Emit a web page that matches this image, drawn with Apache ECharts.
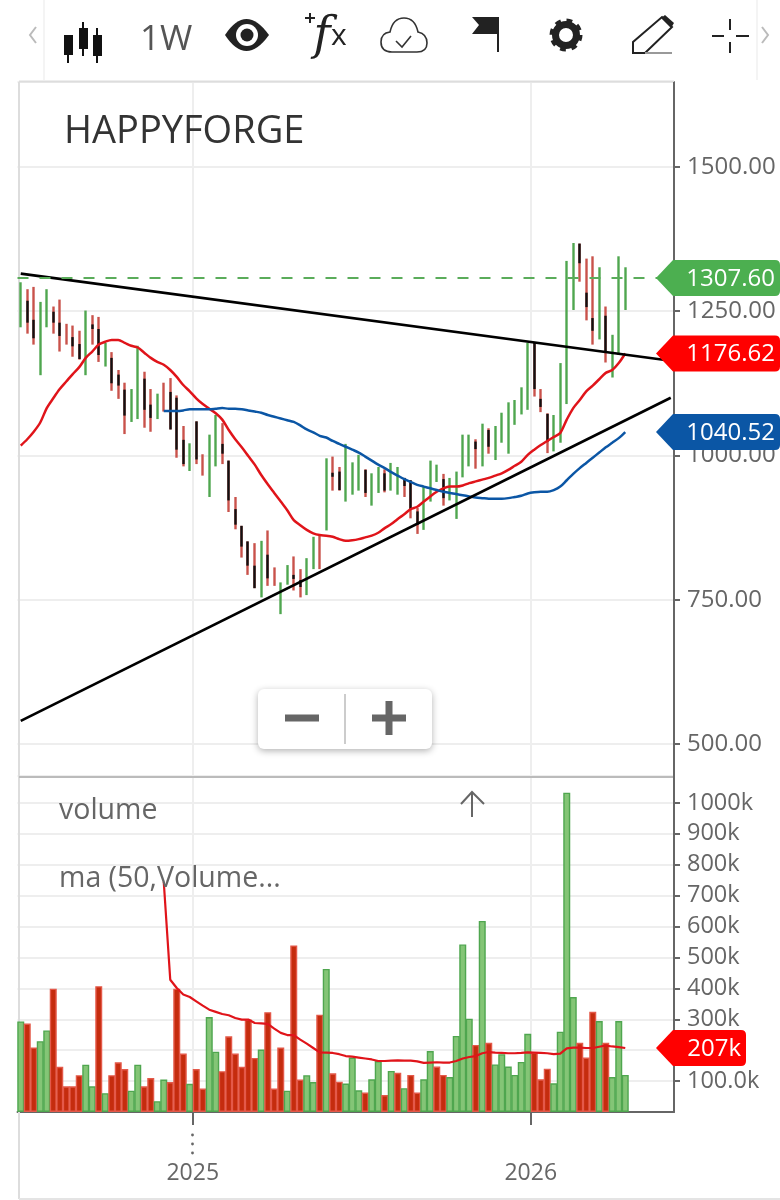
<!DOCTYPE html>
<html>
<head>
<meta charset="utf-8">
<title>HAPPYFORGE 1W</title>
<script src="https://cdn.jsdelivr.net/npm/echarts@6/dist/echarts.min.js"></script>
<style>
html, body { margin: 0; padding: 0; background: #fff; }
#chart { width: 780px; height: 1200px; }
</style>
</head>
<body>
<div id="chart"></div>
<script>
// weekly bars
var opens = [1235,1268,1235,1160,1232,1249,1230,1200,1205,1193,
    1160,1227,1219,1160,1169,1140,1114,1065,1075,1133,
    1088,1070,1082,1110,1100,1027,980,1059,972,940,
    990,1020,991,907,878,851,809,765,828,780,
    735,782,793,784,770,812,812,885,970,972,
    930,940,945,975,920,940,969,945,938,961,
    957,903,880,930,960,959,930,900,970,990,
    1024,990,1044,1000,1030,1012,1060,1078,1090,1195,
    1098,1072,1015,1035,1100,1265,1367,1282,1238,1212,
    1242,1145,1185,1262];
var closes = [1285,1230,1203,1250,1275,1230,1207,1220,1189,1167,
    1240,1219,1174,1185,1125,1121,1069,1105,1170,1079,
    1065,1100,1115,1045,1010,985,1012,993,995,1025,
    1060,1003,922,880,842,809,770,840,787,800,
    772,804,786,772,812,850,852,985,963,940,
    1005,980,990,935,960,972,939,980,972,947,
    906,880,935,980,978,926,955,962,1025,1028,
    1011,1045,1015,1042,1065,1082,1088,1110,1180,1115,
    1084,1024,1060,1150,1325,1355,1333,1257,1216,1315,
    1180,1198,1335,1307.6];
var highs = [1300,1288,1292,1266,1288,1258,1270,1228,1225,1216,
    1251,1243,1240,1195,1179,1148,1126,1115,1190,1145,
    1115,1107,1126,1134,1104,1051,1021,1059,1002,1036,
    1070,1056,991,928,878,851,848,852,870,806,
    780,810,825,803,822,859,861,995,998,980,
    1020,988,1001,976,969,980,976,987,980,961,
    957,909,946,991,984,968,961,972,1036,1036,
    1028,1055,1047,1051,1074,1092,1096,1118,1195,1195,
    1115,1073,1070,1160,1337,1368,1367,1341,1345,1326,
    1258,1209,1345,1326];
var lows = [1222,1211,1192,1139,1222,1211,1180,1192,1171,1166,
    1139,1192,1162,1154,1112,1098,1037,1058,1063,1048,
    1041,1063,1076,1045,996,981,973,985,965,928,
    981,985,902,872,823,793,770,754,774,774,
    725,776,766,754,758,803,803,870,939,939,
    920,932,939,928,913,935,936,939,932,928,
    891,864,871,920,954,913,922,890,962,981,
    977,981,1003,992,1022,1003,1053,1071,1079,1102,
    1075,1004,1007,1022,1089,1252,1301,1234,1192,1201,
    1161,1135,1174,1252];
// up on the week but closed under the previous close: drawn red without a black body
var hollowRed = [7,22,28,39,46];

var ma20 = [1017,1028,1041,1057,1082,1099,1115,1128,1141,1153,
    1169,1180,1192,1197,1200,1200,1195,1190,1187,1178,
    1169,1162,1157,1148,1136,1122,1111,1099,1089,1081,
    1073,1062,1044,1028,1014,999,984,966,950,935,
    920,905,888,879,871,865,862,861,859,855,
    852,853,855,858,861,866,874,881,890,898,
    907,911,920,929,937,943,946,946,948,952,
    955,958,961,965,969,975,982,989,1001,1010,
    1018,1025,1032,1039,1062,1082,1096,1111,1121,1132,
    1143,1148,1160,1176.62];
var ma50 = ['-','-','-','-','-','-','-','-','-','-',
    '-','-','-','-','-','-','-','-','-','-',
    '-','-',1077,1077,1077,1078,1080,1080,1080,1080,
    1081,1082,1081,1081,1080,1078,1076,1074,1070,1067,
    1064,1061,1058,1052,1045,1040,1034,1031,1025,1020,
    1015,1010,1005,998,991,984,978,971,965,959,
    954,949,946,943,940,937,935,933,931,929,
    927,926,925,925,925,926,928,930,934,936,
    937,937,940,946,957,968,978,987,996,1005,
    1014,1022,1030,1040.52];

// volume in thousands
var volumes = [293,286,209,229,264,399,146,83,83,119,
    153,83,407,61,119,161,139,69,153,83,
    110,35,105,97,399,189,91,139,76,307,
    195,132,245,189,146,299,175,202,323,76,
    209,69,539,105,119,97,315,463,125,98,
    92,176,70,63,106,165,55,133,127,77,
    120,63,106,197,147,120,113,246,542,302,
    217,618,224,154,187,147,120,162,253,192,
    106,140,93,260,1033,372,224,176,324,294,
    224,113,294,120];
var volumeUp = [1,0,0,1,1,0,0,0,0,0,
    1,1,0,1,0,0,0,1,1,0,
    0,1,1,0,0,0,1,0,0,1,
    1,0,0,0,0,0,0,1,0,0,
    0,1,0,0,1,1,0,1,0,0,
    1,1,1,0,1,1,0,1,0,1,
    0,0,1,1,0,0,1,1,1,1,
    0,1,0,1,1,1,1,1,1,0,
    0,0,1,1,1,1,0,0,0,1,
    0,1,1,1];
var volumeMa = ['-','-','-','-','-','-','-','-','-','-',
    '-','-','-','-','-','-','-','-','-','-',
    '-','-',745,428,401,380,372,358,344,331,
    324,317,313,304,299,299,288,287,285,270,
    256,249,249,234,221,207,193,192,191,187,
    181,179,176,173,170,165,165,166,167,166,
    166,164,159,160,161,160,160,165,173,178,
    181,190,194,192,191,190,190,191,193,192,
    191,190,187,189,206,208,208,207,207,211,
    215,212,210,207];

// hand drawn trend lines: [bar index, price]
var upperTrend = [[0,1315],[100,1164]];
var lowerTrend = [[0,540],[100,1100]];

var lastClose = 1307.60;
var lastMa20 = 1176.62;
var lastMa50 = 1040.52;
var lastVolumeMa = 207;

var barCount = 101;
var yearTicks = {27: '2025', 79: '2026'};

var GREEN = '#4fa64f';
var WICK_RED = '#c9524b';
var TAG_GREEN = '#4caf50';
var TAG_RED = '#ff0000';
var TAG_BLUE = '#0b56a5';
var FONT = '"Open Sans", sans-serif';

var categories = [];
for (var i = 0; i < barCount; i++) {
    categories.push(yearTicks[i] || '');
}

var candleData = [];
var bodyData = [];
var volumeData = [];
for (var n = 0; n < opens.length; n++) {
    var rising = closes[n] >= opens[n] && hollowRed.indexOf(n) < 0;
    var tone = rising ? GREEN : WICK_RED;
    candleData.push({
        value: [opens[n], closes[n], lows[n], highs[n]],
        itemStyle: {color: tone, color0: tone, borderColor: tone, borderColor0: tone}
    });
    bodyData.push(closes[n] < opens[n] ? [opens[n], closes[n], closes[n], opens[n]] : '-');
    volumeData.push({
        value: volumes[n],
        itemStyle: volumeUp[n]
            ? {color: '#84c576', borderColor: '#4fa64f'}
            : {color: '#c52c0e', borderColor: '#e4594a'}
    });
}

var isYearTick = function (index) {
    return !!yearTicks[index];
};

var xAxisOf = function (gridIndex, withLabel) {
    return {
        type: 'category',
        gridIndex: gridIndex,
        data: categories,
        boundaryGap: true,
        axisLine: {show: withLabel, onZero: false, lineStyle: {color: '#666', width: 2}},
        axisTick: {show: false},
        splitLine: {show: true, interval: isYearTick, lineStyle: {color: '#eee', width: 2}},
        axisLabel: {
            show: withLabel,
            interval: isYearTick,
            margin: 50,
            padding: [0, 7, 0, 0],
            color: '#666',
            fontFamily: FONT,
            fontSize: 23
        }
    };
};

var yAxisOf = function (gridIndex, min, max, interval, size, topPad, formatter) {
    return {
        type: 'value',
        gridIndex: gridIndex,
        position: 'right',
        min: min,
        max: max,
        interval: interval,
        axisLine: {show: true, lineStyle: {color: '#666', width: 2}},
        axisTick: {show: true, length: 6, lineStyle: {color: '#666', width: 2}},
        splitLine: {show: true, lineStyle: {color: '#eee', width: 2}},
        axisLabel: {
            show: true,
            margin: 13,
            padding: [topPad, 0, 0, 0],
            showMaxLabel: false,
            showMinLabel: gridIndex === 0,
            color: '#666',
            fontFamily: FONT,
            fontSize: size,
            formatter: formatter
        }
    };
};

var option = {
    animation: false,
    backgroundColor: '#fff',
    grid: [
        {left: 17.5, top: 82, width: 656.5, height: 662},
        {left: 17.5, top: 776, width: 656.5, height: 336}
    ],
    xAxis: [xAxisOf(0, false), xAxisOf(1, true)],
    yAxis: [
        yAxisOf(0, 500, 1647, 250, 24, 5, function (v) {
            return v > 1500 ? '' : v.toFixed(2);
        }),
        yAxisOf(1, 0, 1087, 100, 23.5, 3, function (v) {
            if (v === 0 || v > 1000) {
                return '';
            }
            return v === 100 ? '100.0k' : v + 'k';
        })
    ],
    series: [
        {
            name: 'price',
            type: 'candlestick',
            data: candleData,
            barWidth: 0.5,
            itemStyle: {borderWidth: 2.4},
            markLine: {
                silent: true,
                symbol: 'none',
                label: {show: false},
                lineStyle: {color: '#5aac5a', type: [11, 11], width: 2},
                data: [{yAxis: lastClose}]
            }
        },
        {
            name: 'body',
            type: 'candlestick',
            data: bodyData,
            barWidth: 0.5,
            itemStyle: {color: '#111', color0: '#111', borderColor: '#111', borderColor0: '#111', borderWidth: 2.4}
        },
        {
            name: 'ma 20',
            type: 'line',
            data: ma20,
            showSymbol: false,
            smooth: 0.3,
            lineStyle: {color: '#e0141a', width: 2.5}
        },
        {
            name: 'ma 50',
            type: 'line',
            data: ma50,
            showSymbol: false,
            smooth: 0.3,
            lineStyle: {color: TAG_BLUE, width: 2.5}
        },
        {
            name: 'upper trend',
            type: 'line',
            data: upperTrend,
            showSymbol: false,
            lineStyle: {color: '#000', width: 2.7}
        },
        {
            name: 'lower trend',
            type: 'line',
            data: lowerTrend,
            showSymbol: false,
            lineStyle: {color: '#000', width: 2.7}
        },
        {
            name: 'volume',
            type: 'bar',
            xAxisIndex: 1,
            yAxisIndex: 1,
            data: volumeData,
            barWidth: 7,
            itemStyle: {borderWidth: 1.4}
        },
        {
            name: 'ma (50,Volume...',
            type: 'line',
            xAxisIndex: 1,
            yAxisIndex: 1,
            data: volumeMa,
            showSymbol: false,
            z: 5,
            lineStyle: {color: '#e0141a', width: 2.2}
        }
    ]
};

var chart = echarts.init(document.getElementById('chart'), null, {renderer: 'canvas'});
chart.setOption(option);

/** line segment helper for frames and icons */
var seg = function (x1, y1, x2, y2, color, width) {
    return {
        type: 'line',
        silent: true,
        z: 1,
        shape: {x1: x1, y1: y1, x2: x2, y2: y2},
        style: {stroke: color, lineWidth: width}
    };
};

// the graphic component has no plain path type, every icon gets a registered shape
var iconCount = 0;
var icon = function (pathData, fill, stroke, width) {
    var shapeName = 'toolbarIcon' + (iconCount++);
    echarts.graphic.registerShape(shapeName, echarts.graphic.extendPath(pathData, {}));
    return {
        type: shapeName,
        silent: true,
        z: 20,
        style: {fill: fill || 'none', stroke: stroke || 'none', lineWidth: width || 0}
    };
};

var label = function (text, x, y, size, color, align, extra) {
    return {
        type: 'text',
        silent: true,
        z: 30,
        x: x,
        y: y,
        style: {
            text: text,
            fill: color,
            font: (extra || '') + ' ' + size + 'px ' + FONT,
            textAlign: align || 'left',
            textVerticalAlign: 'middle'
        }
    };
};

/** value tag on the right edge, centred on the value through the axis scale */
var valueTag = function (axisIndex, value, text, color, right) {
    var cy = chart.convertToPixel({yAxisIndex: axisIndex}, value);
    var top = cy - 18;
    var bot = cy + 18;
    return [
        icon('M656 ' + cy + 'L673 ' + top + 'L' + (right - 5) + ' ' + top + 'Q' + right + ' ' + top + ' ' + right + ' ' + (top + 5) +
            'L' + right + ' ' + (bot - 5) + 'Q' + right + ' ' + bot + ' ' + (right - 5) + ' ' + bot + 'L673 ' + bot + 'Z', color),
        label(text, right === 780 ? 775 : right - 5, cy + 1, 24, '#fff', 'right')
    ];
};

var yearTickX = function (index) {
    return chart.convertToPixel({xAxisIndex: 1}, index) - 3.25;
};

var graphics = [
    // frame
    seg(19, 82, 19, 1199, '#ddd', 2),
    seg(19, 81.5, 674, 81.5, '#ddd', 2),
    seg(19, 777, 674, 777, '#bbb', 2),
    seg(19, 1199, 780, 1199, '#e4e4e4', 2),
    seg(674, 82, 674, 1112, '#666', 2),
    seg(yearTickX(27), 744, yearTickX(27), 776, '#eee', 2),
    seg(yearTickX(79), 744, yearTickX(79), 776, '#eee', 2),
    seg(yearTickX(27), 1112, yearTickX(27), 1125, '#666', 2),
    seg(yearTickX(79), 1112, yearTickX(79), 1125, '#666', 2),
    seg(44, 0, 44, 80, '#f4f4f4', 2),
    seg(757, 0, 757, 80, '#f4f4f4', 2),

    // toolbar
    icon('M36 27L30 35L36 43', null, '#bbb', 2),
    icon('M762 27L768 35L762 43', null, '#bbb', 2),
    icon('M68 38V63M83 22V56M97 28V63', null, '#111', 2),
    icon('M64 35h9v20h-9zM79 28h9v21h-9zM93 35h9v21h-9z', '#111'),
    label('1W', 140, 40, 35, '#555'),
    icon('M225 35Q246 3 269 35Q246 67 225 35Z', '#222'),
    {type: 'circle', silent: true, z: 21, shape: {cx: 247, cy: 35, r: 11}, style: {fill: '#fff'}},
    {type: 'circle', silent: true, z: 22, shape: {cx: 247, cy: 35, r: 6.5}, style: {fill: '#222'}},
    icon('M305 18h10M310 13v10', null, '#222', 2),
    {type: 'text', silent: true, z: 30, x: 322, y: 37, style: {
        text: 'f', fill: '#222', font: 'italic 46px "DejaVu Serif", serif', textAlign: 'center', textVerticalAlign: 'middle'
    }},
    label('x', 331, 36, 30, '#222'),
    icon('M392 52Q381 52 381 42Q381 33 390 32Q393 18 404 18Q415 18 418 32Q427 34 427 43Q427 52 417 52Z', null, '#333', 1.6),
    icon('M396 41L402 47L411 36', null, '#333', 1.6),
    icon('M498 17V52', null, '#222', 2),
    icon('M472 17H498V34H472L479 25Z', '#222'),
    {type: 'circle', silent: true, z: 20, shape: {cx: 566, cy: 35, r: 10.5}, style: {fill: 'none', stroke: '#222', lineWidth: 7}},
    {type: 'circle', silent: true, z: 20, shape: {cx: 566, cy: 35, r: 14.5}, style: {fill: 'none', stroke: '#222', lineWidth: 4, lineDash: [5.7, 5.7]}},
    icon('M633 53V42L662 17L672 27L645 53Z', null, '#222', 2),
    icon('M661 18L671 28L674 23L665 15Z', '#222'),
    icon('M645 53H672', null, '#999', 2),
    icon('M712 36H724M736 36H749M730 19V30M730 42V53', null, '#222', 2),

    // title and panel captions
    label('HAPPYFORGE', 64, 132, 38, '#333'),
    label('volume', 59, 811, 28.5, '#666'),
    label('ma (50,Volume...', 59, 879, 28.5, '#666'),

    // zoom buttons
    {type: 'rect', silent: true, z: 10, shape: {x: 258, y: 689, width: 174, height: 60, r: 6}, style: {
        fill: '#fff', shadowBlur: 7, shadowColor: 'rgba(0,0,0,0.3)', shadowOffsetY: 2
    }},
    icon('M285 714.5h34v7h-34zM372 714.5h34v7h-34zM385.5 701h7v34h-7z', '#666'),
    {type: 'line', silent: true, z: 20, shape: {x1: 345, y1: 694, x2: 345, y2: 744}, style: {stroke: '#ccc', lineWidth: 2}},

    // scroll arrow
    icon('M472 817V792M461 804L472 792L484 804', null, '#666', 2),

    // dots under the 2025 tick
    {type: 'circle', silent: true, z: 20, shape: {cx: 192.5, cy: 1135, r: 1.4}, style: {fill: '#666'}},
    {type: 'circle', silent: true, z: 20, shape: {cx: 192.5, cy: 1144, r: 1.4}, style: {fill: '#666'}},
    {type: 'circle', silent: true, z: 20, shape: {cx: 192.5, cy: 1153, r: 1.4}, style: {fill: '#666'}}
];

graphics = graphics
    .concat(valueTag(0, lastClose, lastClose.toFixed(2), TAG_GREEN, 780))
    .concat(valueTag(0, lastMa20, lastMa20.toFixed(2), TAG_RED, 780))
    .concat(valueTag(0, lastMa50, lastMa50.toFixed(2), TAG_BLUE, 780))
    .concat(valueTag(1, lastVolumeMa, lastVolumeMa + 'k', TAG_RED, 746));

chart.setOption({graphic: {elements: graphics}});
</script>
</body>
</html>
